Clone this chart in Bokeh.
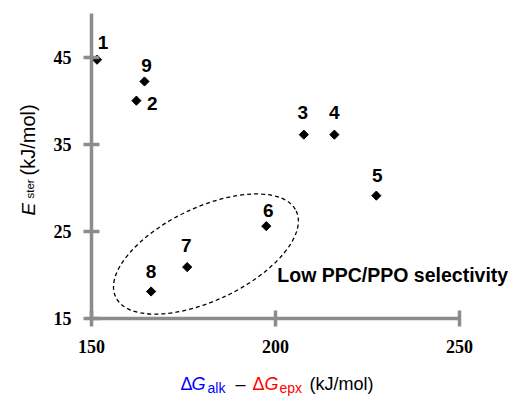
import numpy as np
from bokeh.plotting import figure
from bokeh.layouts import row, column
from bokeh.models import ColumnDataSource, FixedTicker, Label, Range1d
from bokeh.core.properties import value
from bokeh.embed import file_html
from bokeh.resources import INLINE

# ---------------- data ----------------
point_ids = ["1", "2", "3", "4", "5", "6", "7", "8", "9"]
dg_diff = [151.5, 162.2, 207.7, 216.0, 227.4, 197.5, 176.0, 166.2, 164.4]
e_ster = [44.7, 40.0, 36.1, 36.1, 29.1, 25.6, 20.9, 18.1, 42.2]
x_ticks = [150, 200, 250]
y_ticks = [15, 25, 35, 45]
x_limits = (150, 250)
y_limits = (15, 50)
cluster_center_x = [181.1]
cluster_center_y = [22.4]
note_text = "Low PPC/PPO selectivity"
note_x = 200.5
note_y = 20.0

# ---------------- layout / style ----------------
W, H = 517, 396
LW = 40            # left strip (y-axis title)
BH = 26            # bottom strip (x-axis title)
MW, MH = W - LW, H - BH
BL, BT = 91 - LW, 13
BB = MH - 318
AXIS_PX = 368      # pixel length of the x axis (150..250)
FRAME_W = MW - BL
x_end = x_limits[0] + FRAME_W * (x_limits[1] - x_limits[0]) / AXIS_PX

label_dx = [6, 16, -1, 0, 1, 2, -1, 0, 2]
label_dy = [-17, 3, -22, -22, -20, -16, -22, -19.5, -16]
AX = "#8c8c8c"
SANS = "Liberation Sans"
SERIF = "Liberation Serif"
BLUE = "#0000ff"
RED = "#ff0000"

# ---------------- main plot ----------------
p = figure(width=MW, height=MH, output_backend="svg", toolbar_location=None,
           x_range=Range1d(x_limits[0], x_end), y_range=Range1d(*y_limits),
           min_border_left=BL, min_border_right=0, min_border_top=BT, min_border_bottom=BB)
p.outline_line_color = None
p.xgrid.visible = False
p.ygrid.visible = False
p.background_fill_color = "white"
p.border_fill_color = "white"

for ax, ticks, lim in ((p.xaxis, x_ticks, x_limits), (p.yaxis, y_ticks, y_limits)):
    ax.ticker = FixedTicker(ticks=ticks)
    ax.bounds = lim
    ax.axis_line_color = AX
    ax.axis_line_width = 3.5
    ax.major_tick_line_color = AX
    ax.major_tick_line_width = 3.5
    ax.major_tick_in = 8
    ax.major_tick_out = 8
    ax.minor_tick_line_color = None
    ax.major_label_text_font = SERIF
    ax.major_label_text_font_style = "bold"
    ax.major_label_text_font_size = "18px"
    ax.major_label_text_color = "black"
p.xaxis.major_label_standoff = 13
p.yaxis.major_label_standoff = 12

src = ColumnDataSource(dict(x=dg_diff, y=e_ster, t=point_ids, dx=label_dx, dy=label_dy))

p.ellipse(x=cluster_center_x, y=cluster_center_y, width=200, height=93,
          width_units="screen", height_units="screen", angle=0.445,
          fill_color=None, line_color="black", line_dash="4 3", line_width=1.3)

p.scatter(x="x", y="y", source=src, marker="square", size=6.5, angle=np.pi / 4,
          fill_color="black", line_color="black")

p.text(x="x", y="y", text="t", source=src, x_offset="dx", y_offset="dy",
       text_font=value(SANS), text_font_style="bold", text_font_size="19px",
       text_align="center", text_baseline="middle", text_color="black")

p.add_layout(Label(x=note_x, y=note_y, text=note_text, text_font=SANS,
                   text_font_style="bold", text_font_size="19.5px",
                   text_align="left", text_baseline="middle", text_color="black"))


def strip(w, h, x0, x1, bl=0):
    f = figure(width=w, height=h, output_backend="svg", toolbar_location=None,
               x_range=Range1d(x0, x1), y_range=Range1d(0, h),
               x_axis_type=None, y_axis_type=None,
               min_border_left=bl, min_border_right=0, min_border_top=0, min_border_bottom=0)
    f.outline_line_color = None
    f.grid.visible = False
    f.background_fill_color = "white"
    f.border_fill_color = "white"
    return f


# ---------------- x-axis title (bottom strip, frame aligned with main frame) ----------------
bot = strip(MW, BH, LW + BL, W, bl=BL)
xt_x = [180, 191, 207, 235, 252, 264, 279, 309]
xt_base = [383, 383, 387, 383, 383, 383, 387, 383]
xt_text = ["Δ", "G", "alk", "–", "Δ", "G", "epx", "(kJ/mol)"]
xt_col = [BLUE, BLUE, BLUE, "black", RED, RED, RED, "black"]
xt_size = ["18px", "18px", "14px", "18px", "18px", "18px", "14px", "18px"]
xt_style = ["normal", "italic", "normal", "normal", "normal", "italic", "normal", "normal"]
bot.text(x=xt_x, y=[H - b for b in xt_base], text=xt_text, text_color=xt_col,
         text_font_size=xt_size, text_font_style=xt_style, text_font=value(SANS),
         text_align="left", text_baseline="alphabetic")

# ---------------- y-axis title (left strip, rotated) ----------------
left = strip(LW, H, 0, LW)
yt_x = [27.5, 29.5, 27.5]
yt_start = [215, 198, 175]
yt_text = ["E", "ster", "(kJ/mol)"]
yt_size = ["19px", "11.5px", "20px"]
yt_style = ["italic", "normal", "normal"]
left.text(x=yt_x, y=[H - s for s in yt_start], text=yt_text, angle=np.pi / 2,
          text_font_size=yt_size, text_font_style=yt_style, text_font=value(SANS),
          text_color="black", text_align="left", text_baseline="alphabetic")

layout = row(left, column(p, bot))
open("out.html", "w").write(file_html(layout, INLINE))
